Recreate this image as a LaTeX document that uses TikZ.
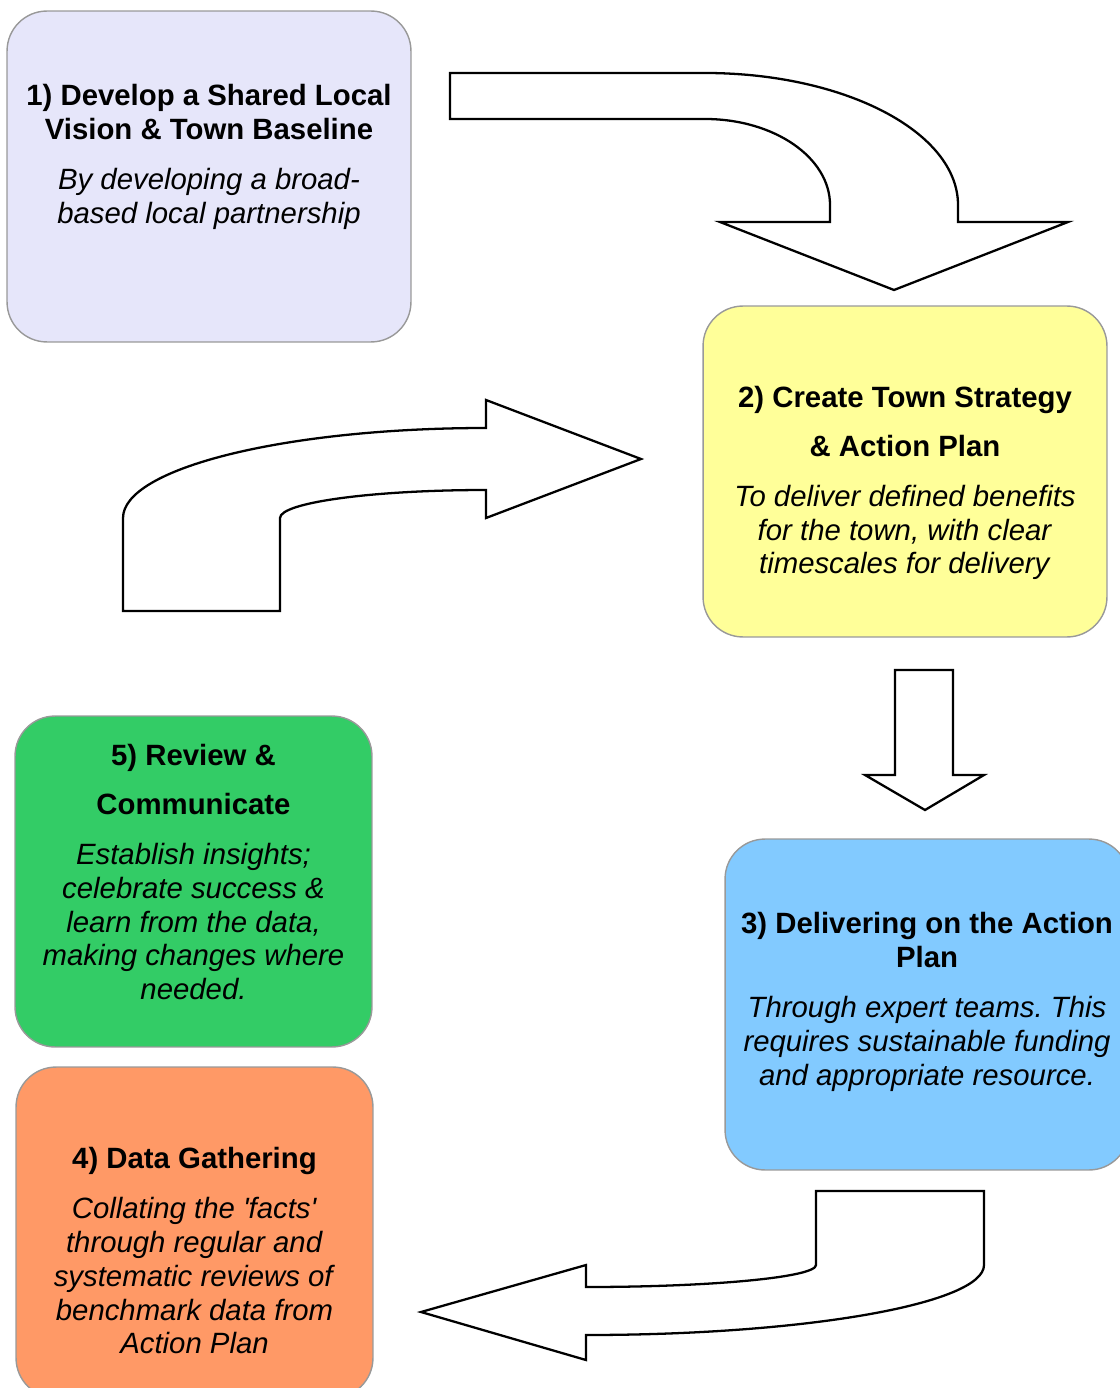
\documentclass[tikz,border=0pt]{standalone}
\usepackage{fontspec}
\setmainfont{Liberation Sans}
\usetikzlibrary{positioning}
\definecolor{lavbox}{HTML}{E6E6FA}
\definecolor{yelbox}{HTML}{FFFF99}
\definecolor{bluebox}{HTML}{82CAFF}
\definecolor{greenbox}{HTML}{33CC66}
\definecolor{orangebox}{HTML}{FF9966}
\definecolor{edgegray}{HTML}{999999}
\newcommand{\K}{0.5523}% bezier factor for a quarter ellipse
\newcommand{\gap}{9pt}% space between heading and text
\frenchspacing

\begin{document}
\begin{tikzpicture}[x=0.02cm,y=-0.02cm,
    stage/.style={draw=edgegray, line width=0.8pt, rounded corners=0.8cm,
        inner sep=0pt, minimum height=6.62cm},
    wide/.style={minimum width=8.08cm},
    narrow/.style={minimum width=7.14cm},
    caption/.style={align=center, anchor=north, inner sep=0pt,
        font=\fontsize{16.7}{19.3}\selectfont},
    bigarrow/.style={draw=black, fill=white, line width=1.3pt, line join=miter}]
    \useasboundingbox (0,0) rectangle (1119,1388);

    % the five stages
    \path (209,176.5) node (S1) [stage, wide, fill=lavbox] {};
    \path (905,471.5) node (S2) [stage, wide, fill=yelbox] {};
    \path (927,1004.5) node (S3) [stage, wide, fill=bluebox] {};
    \path (194.5,1232.5) node (S4) [stage, narrow, fill=orangebox] {};
    \path (193.5,881.5) node (S5) [stage, narrow, fill=greenbox] {};

    % headings and descriptions
    \path (209,84) node (T1) [caption]{\textbf{1) Develop a Shared Local}\\
        \textbf{Vision \& Town Baseline}\\[\gap]
        \textit{By developing a broad-}\\
        \textit{based local partnership}};
    \path (905,386) node (T2) [caption]{\textbf{2) Create Town Strategy}\\[8.5pt]
        \textbf{\& Action Plan}\\[\gap]
        \textit{To deliver defined benefits}\\
        \textit{for the town, with clear}\\
        \textit{timescales for delivery}};
    \path (927,912) node (T3) [caption]{\textbf{3) Delivering on the Action}\\
        \textbf{Plan}\\[\gap]
        \textit{Through expert teams. This}\\
        \textit{requires sustainable funding}\\
        \textit{and appropriate resource.}};
    \path (194.5,1147) node (T4) [caption]{\textbf{4) Data Gathering}\\[\gap]
        \textit{Collating the \textquotesingle facts\textquotesingle}\\
        \textit{through regular and}\\
        \textit{systematic reviews of}\\
        \textit{benchmark data from}\\
        \textit{Action Plan}};
    \path (193.5,744) node (T5) [caption]{\textbf{5) Review \&}\\[8.5pt]
        \textbf{Communicate}\\[\gap]
        \textit{Establish insights;}\\
        \textit{celebrate success \&}\\
        \textit{learn from the data,}\\
        \textit{making changes where}\\
        \textit{needed.}};

    % curved block arrow from stage 1 down to stage 2
    \draw [bigarrow] (450,73) -- (705,73)
        .. controls (705+\K*253,73) and (958,205-\K*132) .. (958,205)
        -- (958,222) -- (1068,222) -- (894,290) -- (720,222) -- (830,222) -- (830,205)
        .. controls (830,205-\K*86) and (705+\K*125,119) .. (705,119)
        -- (450,119) -- cycle;

    % curved block arrow up and over into stage 2
    \draw [bigarrow] (123,611) -- (123,518)
        .. controls (123,518-\K*90) and (486-\K*363,428) .. (486,428)
        -- (486,400) -- (641,459) -- (486,518) -- (486,490)
        .. controls (486-\K*206,490) and (280,518-\K*28) .. (280,518)
        -- (280,611) -- cycle;

    % straight block arrow from stage 2 to stage 3
    \draw [bigarrow] (895,670) -- (953,670) -- (953,775) -- (984,775)
        -- (925,810) -- (865,775) -- (895,775) -- cycle;

    % curved block arrow from stage 3 back to stage 4
    \draw [bigarrow] (816,1191) -- (984,1191) -- (984,1265)
        .. controls (984,1265+\K*70) and (586+\K*398,1335) .. (586,1335)
        -- (586,1360) -- (421,1312) -- (586,1265) -- (586,1287)
        .. controls (586+\K*230,1287) and (816,1265+\K*22) .. (816,1265)
        -- cycle;
\end{tikzpicture}
\end{document}
